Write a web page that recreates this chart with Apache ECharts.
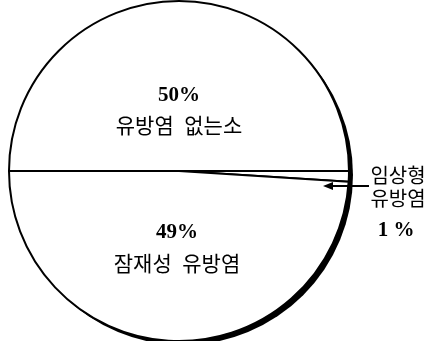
<!DOCTYPE html>
<html>
<head>
<meta charset="utf-8">
<script src="https://cdn.jsdelivr.net/npm/echarts@6/dist/echarts.min.js"></script>
<style>
html,body{margin:0;padding:0;background:#fff;}
#c{width:430px;height:341px;}
</style>
</head>
<body>
<div id="c"></div>
<script>
const categories = ['유방염 없는소', '임상형 유방염', '잠재성 유방염'];
const values = [50, 1, 49];
const pctLabels = ['50%', '1 %', '49%'];

const FONT = '"Liberation Serif", "Noto Sans CJK KR", serif';
const chart = echarts.init(document.getElementById('c'), null, {renderer: 'canvas'});

const data = categories.map((c, i) => ({name: c, value: values[i]}));

function txt(x, y, t, size, weight) {
  return {type: 'text', z: 100,
    style: {x: x, y: y, text: t, font: (weight || 'normal') + ' ' + size + 'px ' + FONT, fill: '#000', align: 'center', verticalAlign: 'middle'}};
}

chart.setOption({
  animation: false,
  backgroundColor: '#fff',
  series: [
    {
      type: 'pie',
      silent: true,
      z: 1,
      center: [183, 175],
      radius: 170,
      startAngle: 180,
      label: {show: false},
      labelLine: {show: false},
      itemStyle: {color: '#000', borderWidth: 0},
      data: [{name: 'shadow', value: 1}]
    },
    {
      type: 'pie',
      silent: true,
      z: 2,
      center: [179, 171],
      radius: 170,
      startAngle: 180,
      clockwise: true,
      label: {show: false},
      labelLine: {show: false},
      itemStyle: {color: '#fff', borderColor: '#000', borderWidth: 2},
      emphasis: {disabled: true},
      data: data
    }
  ],
  graphic: {
    elements: [
      txt(179, 96, pctLabels[0], 21, 'bold'),
      txt(179, 127, '유방염  없는소', 21),
      txt(177, 233, pctLabels[2], 21, 'bold'),
      txt(177, 265, '잠재성  유방염', 21),
      txt(398, 178, '임상형', 20),
      txt(398, 201, '유방염', 20),
      txt(396, 231, pctLabels[1], 21, 'bold'),
      {type: 'line', z: 100, shape: {x1: 369, y1: 186, x2: 330, y2: 186}, style: {stroke: '#000', lineWidth: 2}},
      {type: 'polygon', z: 100, shape: {points: [[323, 186], [333, 182], [333, 190]]}, style: {fill: '#000'}}
    ]
  }
});
</script>
</body>
</html>
